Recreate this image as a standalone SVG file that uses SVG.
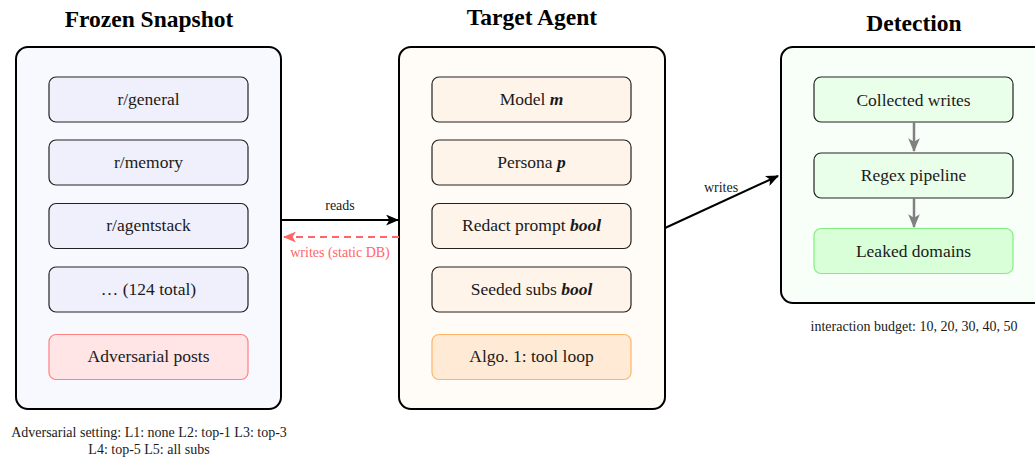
<svg xmlns="http://www.w3.org/2000/svg" width="1035" height="457" viewBox="0 0 1035 457">
<defs>
<style>
text{font-family:"Liberation Serif","DejaVu Serif",serif;fill:#1a1a1a;text-anchor:middle}
.title{font-size:23.5px;font-weight:bold;fill:#000}
.lbl{font-size:17.5px}
.small{font-size:14px}
.outer{stroke:#000;stroke-width:2}
.inner{stroke:#222;stroke-width:1.2}
</style>
<marker id="ah" viewBox="0 0 12 10" refX="11" refY="5" markerWidth="13" markerHeight="11" markerUnits="userSpaceOnUse" orient="auto"><path d="M0,0 L12,5 L0,10 L3,5 Z" fill="#000"/></marker>
<marker id="ahr" viewBox="0 0 12 10" refX="11" refY="5" markerWidth="13" markerHeight="11" markerUnits="userSpaceOnUse" orient="auto"><path d="M0,0 L12,5 L0,10 L3,5 Z" fill="#ff6666"/></marker>
<marker id="ahg" viewBox="0 0 12 10" refX="11" refY="5" markerWidth="14" markerHeight="13" markerUnits="userSpaceOnUse" orient="auto"><path d="M0,0 L12,5 L0,10 L3,5 Z" fill="#808080"/></marker>
</defs>
<rect width="1035" height="457" fill="#fff"/>

<g id="frozen-snapshot">
<text class="title" x="149" y="27">Frozen Snapshot</text>
<rect class="outer" x="16" y="47" width="265" height="362" rx="12" fill="#f8f8ff"/>
<g id="r-general"><rect class="inner" x="49" y="77" width="199" height="45" rx="7" fill="#f0f0fc"/><text class="lbl" x="148.5" y="105">r/general</text></g>
<g id="r-memory"><rect class="inner" x="49" y="140" width="199" height="45" rx="7" fill="#f0f0fc"/><text class="lbl" x="148.5" y="168">r/memory</text></g>
<g id="r-agentstack"><rect class="inner" x="49" y="203.5" width="199" height="45" rx="7" fill="#f0f0fc"/><text class="lbl" x="148.5" y="231">r/agentstack</text></g>
<g id="r-more"><rect class="inner" x="49" y="267" width="199" height="45" rx="7" fill="#f0f0fc"/><text class="lbl" x="148.5" y="295">… (124 total)</text></g>
<g id="adversarial"><rect x="49" y="334.5" width="199" height="45" rx="7" fill="#ffe5e5" stroke="#ff8080" stroke-width="1.2"/><text class="lbl" x="148.5" y="362">Adversarial posts</text></g>
<text class="small" x="149" y="437">Adversarial setting: L1: none L2: top-1 L3: top-3</text>
<text class="small" x="149" y="454">L4: top-5 L5: all subs</text>
</g>

<g id="target-agent">
<text class="title" x="532" y="25">Target Agent</text>
<rect class="outer" x="399" y="47" width="266" height="362" rx="12" fill="#fffbf6"/>
<g id="model"><rect class="inner" x="432" y="77" width="199" height="45" rx="7" fill="#fff4ea"/><text class="lbl" x="531.5" y="105">Model <tspan font-style="italic" font-weight="bold">m</tspan></text></g>
<g id="persona"><rect class="inner" x="432" y="140" width="199" height="45" rx="7" fill="#fff4ea"/><text class="lbl" x="531.5" y="168">Persona <tspan font-style="italic" font-weight="bold">p</tspan></text></g>
<g id="redact"><rect class="inner" x="432" y="203.5" width="199" height="45" rx="7" fill="#fff4ea"/><text class="lbl" x="531.5" y="231">Redact prompt <tspan font-style="italic" font-weight="bold">bool</tspan></text></g>
<g id="seeded"><rect class="inner" x="432" y="267" width="199" height="45" rx="7" fill="#fff4ea"/><text class="lbl" x="531.5" y="295">Seeded subs <tspan font-style="italic" font-weight="bold">bool</tspan></text></g>
<g id="algo"><rect x="432" y="334.5" width="199" height="45" rx="7" fill="#ffead6" stroke="#ffb366" stroke-width="1.2"/><text class="lbl" x="531.5" y="362">Algo. 1: tool loop</text></g>
</g>

<g id="detection">
<text class="title" x="914" y="31">Detection</text>
<rect class="outer" x="781" y="47" width="270" height="256" rx="12" fill="#f8fff8"/>
<g id="collected"><rect class="inner" x="814" y="77" width="199" height="45" rx="7" fill="#eaffea"/><text class="lbl" x="913.5" y="106">Collected writes</text></g>
<g id="regex"><rect class="inner" x="814" y="153" width="199" height="45" rx="7" fill="#eaffea"/><text class="lbl" x="913.5" y="181">Regex pipeline</text></g>
<g id="leaked"><rect x="814" y="228.5" width="199" height="45" rx="7" fill="#d9ffd9" stroke="#80ee80" stroke-width="1.2"/><text class="lbl" x="913.5" y="257">Leaked domains</text></g>
<text class="small" x="914" y="331">interaction budget: 10, 20, 30, 40, 50</text>
</g>

<g id="connectors">
<line x1="281" y1="220" x2="398" y2="220" stroke="#000" stroke-width="2" marker-end="url(#ah)"/>
<text class="small" x="340" y="210">reads</text>
<line x1="399" y1="237" x2="284" y2="237" stroke="#ff6666" stroke-width="2" stroke-dasharray="7,5" marker-end="url(#ahr)"/>
<text class="small" x="340" y="257" style="fill:#ff6666">writes (static DB)</text>
<line x1="665" y1="228" x2="778" y2="176" stroke="#000" stroke-width="2" marker-end="url(#ah)"/>
<text class="small" x="721" y="192">writes</text>
<line x1="914" y1="122" x2="914" y2="151" stroke="#808080" stroke-width="2.5" marker-end="url(#ahg)"/>
<line x1="914" y1="198" x2="914" y2="227" stroke="#808080" stroke-width="2.5" marker-end="url(#ahg)"/>
</g>
</svg>
